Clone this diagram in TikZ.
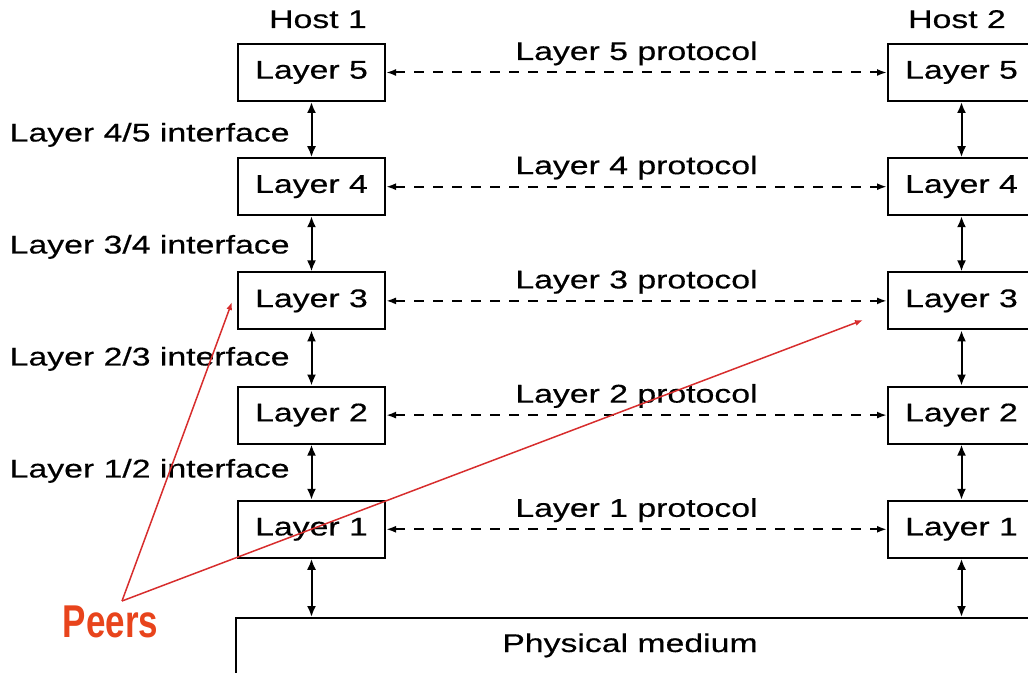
\documentclass[tikz,border=0pt]{standalone}
\usepackage{fontspec}
\setmainfont{Liberation Sans}[FakeStretch=1.32, FakeBold=0.4]
\newfontfamily\peersfont{Liberation Sans}[FakeStretch=0.76]
\usetikzlibrary{arrows.meta}
\definecolor{peerline}{RGB}{215,45,45}
\definecolor{peertext}{RGB}{232,68,28}
\begin{document}
\begin{tikzpicture}[x=0.5pt,y=-0.5pt,
  txt/.style={font=\fontsize{12.8}{15}\selectfont, inner sep=0pt},
  layerbox/.style={txt, draw, line width=1pt, minimum width=73.5pt, minimum height=28.5pt},
  iface/.style={line width=1pt, {Latex[length=5.5pt,width=4.5pt]}-{Latex[length=5.5pt,width=4.5pt]}},
  proto/.style={line width=1pt, dash pattern=on 5pt off 4.5pt, {Latex[length=5pt,width=3.5pt]}-{Latex[length=5pt,width=3.5pt]}},
  peer/.style={draw=peerline, line width=0.75pt, -{Latex[length=4pt,width=3pt]}}]
\useasboundingbox (0,0) rectangle (1028,673);
\clip (0,0) rectangle (1028,673);

% host titles
\node[txt, anchor=base] (h1) at (318,28) {Host 1};
\node[txt, anchor=base] (h2) at (957,28) {Host 2};

% layer stacks of both hosts
\foreach \n [count=\k from 0] in {5,4,3,2,1} {
  \node[layerbox] (L\n) at (311.5, 72.5+114.2*\k) {Layer \n};
  \node[layerbox] (R\n) at (961.5, 72.5+114.2*\k) {Layer \n};
}

% shared physical medium
\node[draw, line width=1pt, anchor=north west, minimum width=440pt, minimum height=40pt, inner sep=0pt] (phys) at (235,617) {};
\node[txt, anchor=base] (physlbl) at (630,652) {Physical medium};

% peer protocols
\foreach \n in {5,4,3,2,1} {
  \draw[proto] (L\n.east) -- node[txt, anchor=base, yshift=6.25pt] (p\n) {Layer \n\ protocol} (R\n.west);
}

% interfaces between adjacent layers
\foreach \a/\b [count=\k from 0] in {5/4,4/3,3/2,2/1} {
  \draw[iface] (L\a.south) -- (L\b.north);
  \draw[iface] (R\a.south) -- (R\b.north);
  \node[txt, anchor=base east] (i\b) at (290, 141.5+112*\k) {Layer \b/\a\ interface};
}
\draw[iface] (L1.south) -- (L1.south |- phys.north);
\draw[iface] (R1.south) -- (R1.south |- phys.north);

% peers annotation
\node[font=\peersfont\bfseries\fontsize{23}{26}\selectfont, text=peertext, anchor=base, inner sep=0pt] (peers) at (110.5,637) {Peers};
\coordinate (apex) at (122,601);
\coordinate (peerL) at (232,302);
\coordinate (peerR) at (863,320);
\draw[peer] (apex) -- (peerL);
\draw[peer] (apex) -- (peerR);
\end{tikzpicture}
\end{document}
